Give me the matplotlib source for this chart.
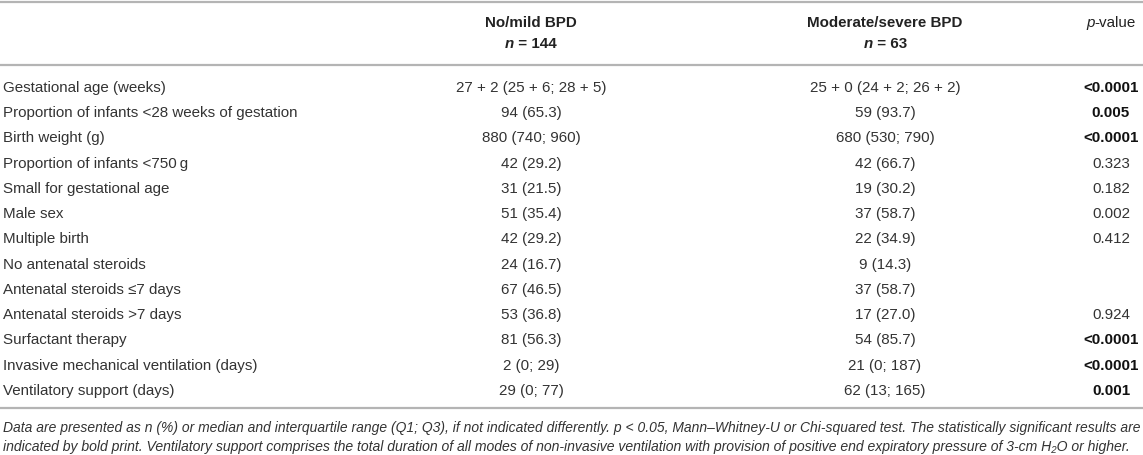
import matplotlib.pyplot as plt

plt.rcParams['font.family'] = ['Liberation Sans', 'DejaVu Sans']

# table content
row_labels = [
    'Gestational age (weeks)',
    'Proportion of infants <28 weeks of gestation',
    'Birth weight (g)',
    'Proportion of infants <750\u2009g',
    'Small for gestational age',
    'Male sex',
    'Multiple birth',
    'No antenatal steroids',
    'Antenatal steroids \u22647 days',
    'Antenatal steroids >7 days',
    'Surfactant therapy',
    'Invasive mechanical ventilation (days)',
    'Ventilatory support (days)',
]
mild_bpd = [
    '27 + 2 (25 + 6; 28 + 5)', '94 (65.3)', '880 (740; 960)', '42 (29.2)',
    '31 (21.5)', '51 (35.4)', '42 (29.2)', '24 (16.7)', '67 (46.5)',
    '53 (36.8)', '81 (56.3)', '2 (0; 29)', '29 (0; 77)',
]
severe_bpd = [
    '25 + 0 (24 + 2; 26 + 2)', '59 (93.7)', '680 (530; 790)', '42 (66.7)',
    '19 (30.2)', '37 (58.7)', '22 (34.9)', '9 (14.3)', '37 (58.7)',
    '17 (27.0)', '54 (85.7)', '21 (0; 187)', '62 (13; 165)',
]
p_values = ['<0.0001', '0.005', '<0.0001', '0.323', '0.182', '0.002', '0.412',
            '', '', '0.924', '<0.0001', '<0.0001', '0.001']
p_bold = [True, True, True, False, False, False, False,
          False, False, False, True, True, True]
col_titles = ['No/mild BPD', 'Moderate/severe BPD']
col_n = ['144', '63']
footnote = [
    'Data are presented as n (%) or median and interquartile range (Q1; Q3), if not indicated differently. '
    'p < 0.05, Mann\u2013Whitney-U or Chi-squared test. The statistically significant results are',
    'indicated by bold print. Ventilatory support comprises the total duration of all modes of non-invasive '
    'ventilation with provision of positive end expiratory pressure of 3-cm H\u2082O or higher.',
]

W, H = 1143, 456
fig = plt.figure(figsize=(W / 100, H / 100), dpi=100)
ax = fig.add_axes([0, 0, 1, 1])
ax.set_xlim(0, W)
ax.set_ylim(H, 0)
ax.axis('off')

body = '#333333'
rule = '#b4b4b4'
fs = 10.9
x_label, x_mild, x_sev, x_p = 3, 531, 885, 1111
y_first, dy = 88, 25.25

for y in (3, 66, 409):
    ax.plot([0, W], [y, y], color=rule, lw=1.6, solid_capstyle='butt')

# header
renderer = fig.canvas.get_renderer()
for x, title, n in zip([x_mild, x_sev], col_titles, col_n):
    ax.text(x, 23, title, ha='center', va='center', fontsize=fs,
            fontweight='bold', color='#222222')
    t1 = ax.text(0, 44, 'n', ha='left', va='center', fontsize=fs,
                 fontweight='bold', fontstyle='italic', color='#222222')
    t2 = ax.text(0, 44, ' = ' + n, ha='left', va='center', fontsize=fs,
                 fontweight='bold', color='#222222')
    w1 = t1.get_window_extent(renderer).width
    w2 = t2.get_window_extent(renderer).width
    t1.set_x(x - (w1 + w2) / 2)
    t2.set_x(x - (w1 + w2) / 2 + w1)

t1 = ax.text(0, 23, 'p', ha='left', va='center', fontsize=fs,
             fontstyle='italic', color='#222222')
t2 = ax.text(0, 23, '-value', ha='left', va='center', fontsize=fs,
             color='#222222')
w1 = t1.get_window_extent(renderer).width
w2 = t2.get_window_extent(renderer).width
t1.set_x(x_p - (w1 + w2) / 2)
t2.set_x(x_p - (w1 + w2) / 2 + w1)

# body rows
for i in range(len(row_labels)):
    y = y_first + i * dy
    ax.text(x_label, y, row_labels[i], ha='left', va='center', fontsize=fs, color=body)
    ax.text(x_mild, y, mild_bpd[i], ha='center', va='center', fontsize=fs, color=body)
    ax.text(x_sev, y, severe_bpd[i], ha='center', va='center', fontsize=fs, color=body)
    ax.text(x_p, y, p_values[i], ha='center', va='center', fontsize=fs,
            color='#111111' if p_bold[i] else body,
            fontweight='bold' if p_bold[i] else 'normal')

# footnote, each line shrunk to span the table width
for j, line in enumerate(footnote):
    t = ax.text(3, 428 + j * 19, line, ha='left', va='center', fontsize=10,
                fontstyle='italic', color=body)
    w = t.get_window_extent(renderer).width
    t.set_fontsize(10 * 1136 / w)

fig.savefig('out.png', dpi=100)
